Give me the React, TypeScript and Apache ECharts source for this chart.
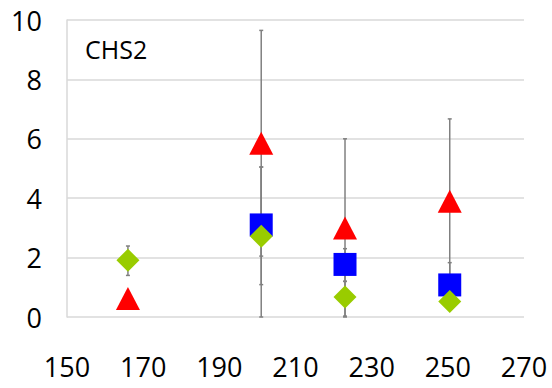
import React, { useEffect, useRef } from "react";
import * as echarts from "echarts";

const xTicks = [150, 170, 190, 210, 230, 250, 270];
const yTicks = [0, 2, 4, 6, 8, 10];

const redX = [166, 201, 223, 250.5];
const redY = [0.62, 5.85, 3.0, 3.9];
const redLow = [0.62, 2.05, 0.0, 1.13];
const redHigh = [0.62, 9.65, 6.0, 6.67];

const blueX = [201, 223, 250.5];
const blueY = [3.1, 1.77, 1.08];
const blueLow = [1.09, 1.2, 0.33];
const blueHigh = [5.05, 2.3, 1.83];

const greenX = [166, 201, 223, 250.5];
const greenY = [1.91, 2.72, 0.67, 0.52];
const greenLow = [1.4, 0.0, 0.03, 0.3];
const greenHigh = [2.39, 5.05, 1.2, 0.8];

const label = "CHS2";

function errData(xs: number[], lo: number[], hi: number[]) {
  return xs.map((x, i) => [x, lo[i], hi[i]]);
}

export default function App() {
  const ref = useRef<HTMLDivElement>(null);
  useEffect(() => {
    if (!ref.current) return;
    const chart = echarts.init(ref.current, null, { renderer: "svg" });
    const font = "'Open Sans', sans-serif";
    const errSeries = (data: number[][]) => ({
      type: "custom",
      z: 1,
      data,
      renderItem: (params: any, api: any) => {
        const x = api.value(0);
        const lo = api.coord([x, api.value(1)]);
        const hi = api.coord([x, api.value(2)]);
        const st = { stroke: "#808080", lineWidth: 1.5 };
        return {
          type: "group",
          children: [
            { type: "line", shape: { x1: lo[0], y1: lo[1], x2: hi[0], y2: hi[1] }, style: st },
            { type: "line", shape: { x1: lo[0] - 2, y1: lo[1], x2: lo[0] + 2, y2: lo[1] }, style: st },
            { type: "line", shape: { x1: hi[0] - 2, y1: hi[1], x2: hi[0] + 2, y2: hi[1] }, style: st },
          ],
        };
      },
    });
    chart.setOption({
      animation: false,
      grid: { left: 67, right: 28, top: 20, bottom: 71, containLabel: false },
      xAxis: {
        type: "value",
        min: xTicks[0],
        max: xTicks[xTicks.length - 1],
        interval: 20,
        axisLine: { show: false },
        axisTick: { show: false },
        splitLine: { show: false },
        axisLabel: { color: "#000", fontSize: 27, fontFamily: font, margin: 36 },
      },
      yAxis: {
        type: "value",
        min: yTicks[0],
        max: yTicks[yTicks.length - 1],
        interval: 2,
        axisLine: { show: true, lineStyle: { color: "#d9d9d9", width: 1.5 } },
        axisTick: { show: false },
        splitLine: { show: true, lineStyle: { color: "#d9d9d9", width: 1.5 } },
        axisLabel: { color: "#000", fontSize: 27, fontFamily: font, margin: 25 },
      },
      graphic: [
        {
          type: "text",
          left: 85,
          top: 36,
          style: { text: label, fontSize: 25, fontFamily: font, fill: "#000" },
        },
      ],
      series: [
        errSeries(errData(redX, redLow, redHigh)),
        errSeries(errData(blueX, blueLow, blueHigh)),
        errSeries(errData(greenX, greenLow, greenHigh)),
        {
          type: "scatter",
          z: 3,
          symbol: "triangle",
          symbolSize: [24, 23],
          itemStyle: { color: "#ff0000", opacity: 1 },
          data: redX.map((x, i) => [x, redY[i]]),
        },
        {
          type: "scatter",
          z: 4,
          symbol: "rect",
          symbolSize: [23, 23],
          itemStyle: { color: "#0000ff", opacity: 1 },
          data: blueX.map((x, i) => [x, blueY[i]]),
        },
        {
          type: "scatter",
          z: 5,
          symbol: "diamond",
          symbolSize: [23, 23],
          itemStyle: { color: "#99cc00", opacity: 1 },
          data: greenX.map((x, i) => [x, greenY[i]]),
        },
      ],
    });
    return () => chart.dispose();
  }, []);
  return <div ref={ref} style={{ width: 552, height: 388, position: "absolute", left: 0, top: 0 }} />;
}
